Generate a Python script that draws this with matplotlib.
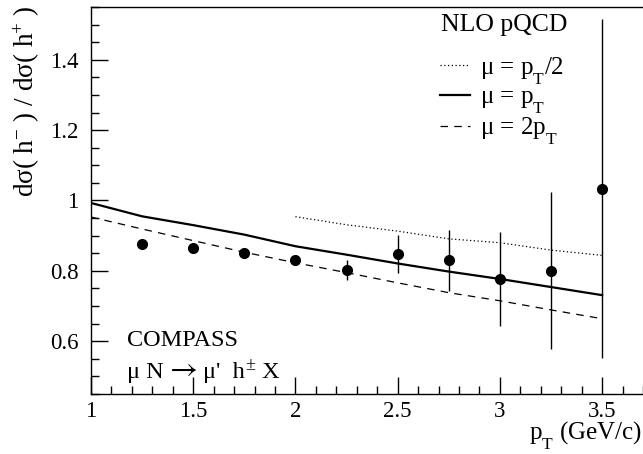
import matplotlib
matplotlib.use("Agg")
import matplotlib.pyplot as plt
from matplotlib.ticker import MultipleLocator, FuncFormatter
from matplotlib.transforms import offset_copy

plt.rcParams['font.family'] = ['Liberation Serif', 'DejaVu Sans']
plt.rcParams['mathtext.fontset'] = 'custom'
plt.rcParams['mathtext.rm'] = 'Liberation Serif'
plt.rcParams['mathtext.it'] = 'Liberation Serif:italic'
try:
    import matplotlib._mathtext as _mt
    _mt.FontConstantsBase.sub1 = 0.9
    _mt.FontConstantsBase.subdrop = 0.55
except Exception:
    pass

# data points
pt = [1.25, 1.5, 1.75, 2.0, 2.25, 2.5, 2.75, 3.0, 3.25, 3.5]
ratio = [0.875, 0.865, 0.851, 0.831, 0.802, 0.848, 0.830, 0.777, 0.801, 1.034]
ratio_err = [0.008, 0.009, 0.011, 0.015, 0.028, 0.053, 0.087, 0.134, 0.222, 0.483]

# NLO curves
curve_pt = [1.0, 1.25, 1.5, 1.75, 2.0, 2.25, 2.5, 2.75, 3.0, 3.25, 3.5]
mu_pt = [0.993, 0.955, 0.930, 0.903, 0.870, 0.846, 0.821, 0.798, 0.777, 0.754, 0.731]
mu_2pt = [0.953, 0.919, 0.886, 0.853, 0.823, 0.795, 0.766, 0.738, 0.715, 0.689, 0.664]
half_pt = [2.0, 2.25, 2.5, 2.75, 3.0, 3.25, 3.5]
mu_half = [0.954, 0.931, 0.913, 0.891, 0.880, 0.859, 0.844]

labels = ['μ = $\\mathrm{p}_{\\mathrm{T}}$/2', 'μ = $\\mathrm{p}_{\\mathrm{T}}$',
          'μ = 2$\\mathrm{p}_{\\mathrm{T}}$']

W, H = 643, 454
fig = plt.figure(figsize=(W/100, H/100), dpi=100)
ax = fig.add_axes([91/W, 1-394/H, 1-91/W, (394-7)/H])

def axx(px):
    return (px - 91) / (W - 91)

def axy(py):
    return (394 - py) / (394 - 7)

l_half, = ax.plot(half_pt, mu_half, color='black', lw=0.9, ls=(0, (1, 2)))
l_pt, = ax.plot(curve_pt, mu_pt, color='black', lw=1.6, ls='-')
l_2pt, = ax.plot(curve_pt, mu_2pt, color='black', lw=0.9, ls=(0, (6, 5)))

ax.errorbar(pt, ratio, yerr=ratio_err, fmt='o', color='black', ms=7,
            elinewidth=1.0, capsize=0, zorder=5)

ax.set_xlim(1.0, 3.7)
ax.set_ylim(0.45, 1.55)
ax.spines['right'].set_visible(False)
for s in ['left', 'bottom', 'top']:
    ax.spines[s].set_linewidth(1.0)

ax.xaxis.set_major_locator(MultipleLocator(0.5))
ax.xaxis.set_minor_locator(MultipleLocator(0.1))
ax.yaxis.set_major_locator(MultipleLocator(0.2))
ax.yaxis.set_minor_locator(MultipleLocator(0.05))
fmt = FuncFormatter(lambda v, p: ('%g' % round(v, 3)))
ax.xaxis.set_major_formatter(fmt)
ax.yaxis.set_major_formatter(fmt)
ax.tick_params(which='both', direction='in', top=False, right=False, labelsize=16.5)
ax.tick_params(which='major', length=12, width=1.0)
ax.tick_params(which='minor', length=6, width=1.0)
ax.tick_params(axis='y', pad=9)
ax.tick_params(axis='x', pad=5)

fig.text(27/W, 1-101/H, 'dσ( h$^{-}$ ) / dσ( h$^{+}$ )', rotation=90,
         ha='center', va='center', fontsize=19.5)
fig.text(642/W, 1-439/H, '$\\mathrm{p}_{\\mathrm{T}}$ (GeV/c)', ha='right',
         va='baseline', fontsize=18)

ax.text(axx(127), axy(340), 'COMPASS', fontsize=17.5, ha='left', va='center',
        transform=ax.transAxes)

# reaction line, built from pieces so the arrow can come from STIX
renderer = fig.canvas.get_renderer()
base_y = axy(378)
x0 = axx(127)
t1 = ax.text(x0, base_y, "μ N", fontsize=17.5, ha='left', va='baseline',
             transform=ax.transAxes)
w1 = t1.get_window_extent(renderer).width
t2 = ax.text(x0, base_y, "→", fontsize=22, ha='left', va='baseline',
             family='STIXGeneral',
             transform=offset_copy(ax.transAxes, fig, x=w1 + 6, y=0, units='dots'))
w2 = t2.get_window_extent(renderer).width
t3 = ax.text(x0, base_y, "μ'  h", fontsize=17.5, ha='left', va='baseline',
             transform=offset_copy(ax.transAxes, fig, x=w1 + w2 + 11, y=0, units='dots'))
w3 = t3.get_window_extent(renderer).width
t4 = ax.text(x0, base_y, "±", fontsize=13, ha='left', va='baseline',
             transform=offset_copy(ax.transAxes, fig, x=w1 + w2 + w3 + 12, y=8, units='dots'))
w4 = t4.get_window_extent(renderer).width
ax.text(x0, base_y, " X", fontsize=17.5, ha='left', va='baseline',
        transform=offset_copy(ax.transAxes, fig, x=w1 + w2 + w3 + w4 + 12, y=0, units='dots'))

ax.text(axx(441), axy(25), 'NLO pQCD', fontsize=18.5, ha='left', va='center',
        transform=ax.transAxes)
leg = ax.legend([l_half, l_pt, l_2pt], labels, loc='upper left',
                bbox_to_anchor=(axx(440), axy(55)), frameon=False,
                fontsize=18, handlelength=1.2, handletextpad=0.4,
                labelspacing=-0.03, borderaxespad=0.0, borderpad=0.0)

fig.savefig('out.png', dpi=100)
